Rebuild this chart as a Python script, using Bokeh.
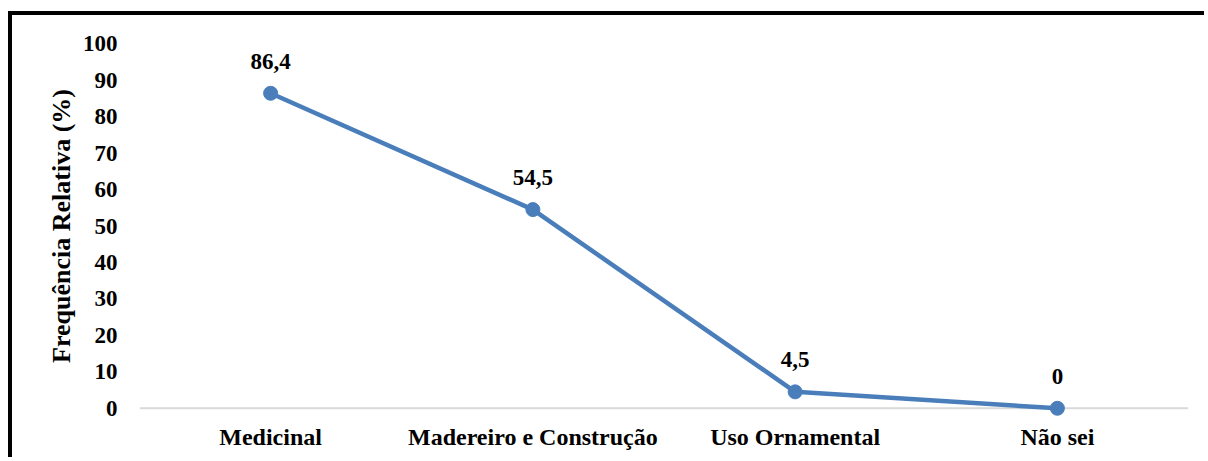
from bokeh.plotting import figure
from bokeh.models import FactorRange, Range1d, FixedTicker, Span, ColumnDataSource
from bokeh.core.properties import value
from bokeh.embed import file_html
from bokeh.resources import INLINE

categories = ["Medicinal", "Madereiro e Construção", "Uso Ornamental", "Não sei"]
values = [86.4, 54.5, 4.5, 0]
value_labels = ["86,4", "54,5", "4,5", "0"]
y_ticks = [0, 10, 20, 30, 40, 50, 60, 70, 80, 90, 100]
y_title = "Frequência Relativa (%)"

FONT = "Liberation Serif"
BLUE = "#4A7EBB"

p = figure(width=1196, height=446, output_backend="svg", toolbar_location=None,
           x_range=FactorRange(*categories, range_padding=0),
           y_range=Range1d(-5, 105),
           min_border_left=127, min_border_right=20,
           min_border_top=10, min_border_bottom=35,
           margin=(11, 0, 0, 8),
           styles={"border-top": "4px solid black", "border-left": "4px solid black"})
p.outline_line_color = None
p.xgrid.grid_line_color = None
p.ygrid.grid_line_color = None
p.background_fill_color = "white"
p.border_fill_color = "white"

# y axis
p.yaxis.ticker = FixedTicker(ticks=y_ticks)
p.yaxis.axis_line_color = None
p.yaxis.major_tick_line_color = None
p.yaxis.minor_tick_line_color = None
p.yaxis.major_tick_out = 0
p.yaxis.major_label_standoff = 22
p.yaxis.major_label_text_font = FONT
p.yaxis.major_label_text_font_style = "bold"
p.yaxis.major_label_text_font_size = "23px"
p.yaxis.major_label_text_color = "black"
p.yaxis.axis_label = y_title
p.yaxis.axis_label_text_font = FONT
p.yaxis.axis_label_text_font_style = "bold"
p.yaxis.axis_label_text_font_size = "26px"
p.yaxis.axis_label_text_color = "black"
p.yaxis.axis_label_standoff = 4

# x axis
p.xaxis.axis_line_color = None
p.xaxis.major_tick_line_color = None
p.xaxis.minor_tick_line_color = None
p.xaxis.major_tick_out = 0
p.xaxis.major_label_standoff = -3
p.xaxis.major_label_text_font = FONT
p.xaxis.major_label_text_font_style = "bold"
p.xaxis.major_label_text_font_size = "24px"
p.xaxis.major_label_text_color = "black"

# baseline at zero
p.add_layout(Span(location=0, dimension="width", line_color="#D9D9D9", line_width=2, level="underlay"))

src = ColumnDataSource(dict(x=categories, y=values, t=value_labels))
p.line("x", "y", source=src, line_color=BLUE, line_width=4.5)
p.scatter("x", "y", source=src, size=14, fill_color=BLUE, line_color=BLUE)
p.text("x", "y", text="t", source=src, text_align="center", text_baseline="alphabetic",
       y_offset=-32, text_font=value(FONT), text_font_style="bold",
       text_font_size="23px", text_color="black")

open("out.html", "w").write(file_html(p, INLINE))
